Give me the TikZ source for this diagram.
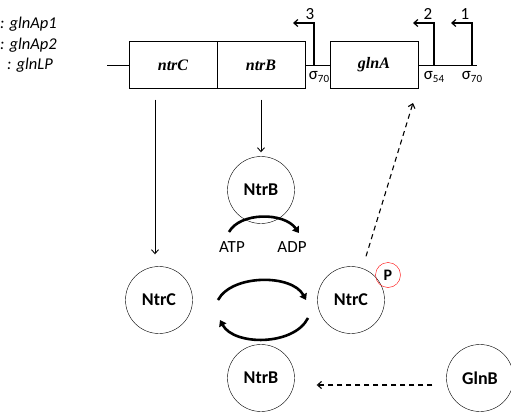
\documentclass[tikz,border=0pt]{standalone}
\usepackage{fontspec}
\setmainfont{Carlito}
\newfontfamily\genefont{Liberation Serif}
\usetikzlibrary{arrows.meta,positioning}
\newcommand{\sig}[1]{σ\raisebox{-3pt}{\fontsize{11}{11}\selectfont #1}}
\tikzset{
  gene/.style={draw, fill=white, minimum width=88pt, minimum height=47pt, inner sep=0pt,
    font=\genefont\bfseries\itshape\fontsize{16}{16}\selectfont},
  prot/.style={draw, circle, minimum size=67pt, inner sep=0pt, font=\bfseries\fontsize{18}{18}\selectfont},
  arr/.style={-{Straight Barb[length=4pt,width=7pt]}, line width=0.9pt},
  prom/.style={-{Straight Barb[length=4pt,width=7pt]}, line width=1.2pt},
  cyc/.style={line width=2.6pt, -{Triangle[length=6pt,width=8pt]}},
  lbl/.style={font=\fontsize{17}{17}\selectfont, inner sep=0pt},
  dash line/.style={dash pattern=on 5pt off 4pt, line width=1.1pt}
}
\begin{document}
\begin{tikzpicture}[x=1pt,y=-1pt]
\useasboundingbox (0,0) rectangle (511,417);
% promoter legend
\node[lbl, anchor=west, font=\itshape\fontsize{16.5}{16.5}\selectfont] (leg1) at (0,24) {: glnAp1};
\node[lbl, anchor=west, font=\itshape\fontsize{16.5}{16.5}\selectfont] (leg2) at (0,45) {: glnAp2};
\node[lbl, anchor=west, font=\itshape\fontsize{16.5}{16.5}\selectfont] (leg3) at (7,65) {: glnLP};
% operon
\draw[thick] (107,65) -- (477,65);
\node[gene] (ntrC) at (173,65) {ntrC};
\node[gene] (ntrB) at (261,65) {ntrB};
\node[gene] (glnA) at (374,65) {glnA};
\coordinate (p3) at (314,65);
\coordinate (p2) at (434,65);
\coordinate (p1) at (472,65);
\draw[prom] (p3) -- ++(0,-42) -- ++(-21,0);
\draw[prom] (p2) -- ++(0,-42) -- ++(-21,0);
\draw[prom] (p1) -- ++(0,-42) -- ++(-21,0);
\node[lbl] (n3) at (310,14) {3};
\node[lbl] (n2) at (428,14) {2};
\node[lbl] (n1) at (465,14) {1};
\node[lbl] (s3) at (319,77) {\sig{70}};
\node[lbl] (s2) at (434,77) {\sig{54}};
\node[lbl] (s1) at (472,77) {\sig{70}};
% proteins
\node[prot] (ntrBup) at (261,190) {NtrB};
\node[prot] (ntrCl) at (159,300) {NtrC};
\node[prot] (ntrCp) at (351,300) {NtrC};
\node[prot] (ntrBlo) at (261,378) {NtrB};
\node[prot] (glnB) at (480,378) {GlnB};
\node[draw=red, circle, minimum size=25pt, inner sep=0pt, font=\bfseries\fontsize{16}{16}\selectfont] (phos) at (388,275) {P};
\node[lbl] (atp) at (232,247) {ATP};
\node[lbl] (adp) at (292,247) {ADP};
% expression
\draw[arr] ([xshift=-18pt,yshift=-11pt]ntrC.south) -- ([xshift=-4pt,yshift=12pt]ntrCl.north);
\draw[arr] ([yshift=-11pt]ntrB.south) -- ([yshift=4pt]ntrBup.north);
\draw[arr, dash line] ([shift={(15pt,10pt)}]ntrCp.north) -- ([shift={(-21pt,-38pt)}]p2);
\draw[arr, dash line] ([shift={(-14pt,-7pt)}]glnB.west) -- ([shift={(22pt,-7pt)}]ntrBlo.east);
% phosphorylation cycle
\draw[cyc] (229,232) .. controls (240,212) and (284,212) .. (299,233);
\draw[cyc] (218,300) .. controls (232,274) and (292,274) .. (306,300);
\draw[cyc] (308,318) .. controls (294,346) and (234,346) .. (220,320);
\end{tikzpicture}
\end{document}
